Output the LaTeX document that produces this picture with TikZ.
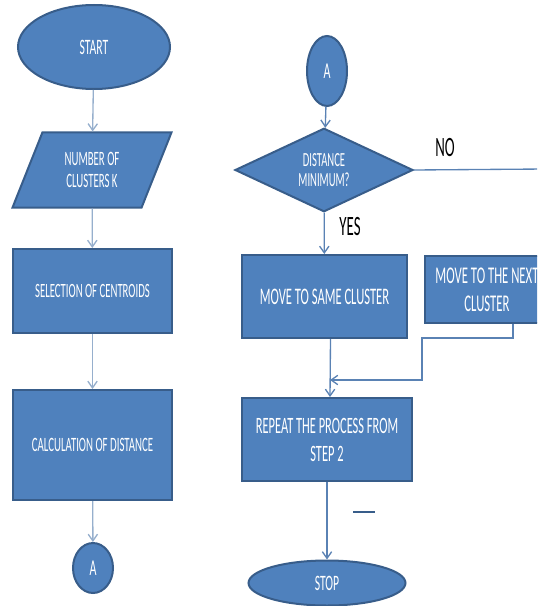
\documentclass[tikz,border=0pt]{standalone}
\usepackage{fontspec}
\setmainfont{Carlito}[FakeStretch=0.53]
\usetikzlibrary{shapes.geometric,arrows.meta}

\definecolor{boxblue}{RGB}{79,129,189}
\definecolor{boxedge}{RGB}{56,93,138}
\definecolor{linegrey}{RGB}{150,175,205}
\definecolor{lineblue}{RGB}{90,130,180}

\tikzset{every picture/.style={line width=0.75pt}}
\tikzset{
  flowshape/.style={draw=boxedge, fill=boxblue, line width=1.5pt, text=white, align=center, inner sep=0pt},
  terminal/.style={flowshape, ellipse},
  inoutput/.style={flowshape, trapezium, trapezium left angle=65, trapezium right angle=115, trapezium stretches=true},
  process/.style={flowshape, rectangle},
  decision/.style={flowshape, diamond},
  offpage/.style={flowshape, ellipse, minimum width=30pt},
  connl/.style={draw=linegrey, line width=1pt, -{Straight Barb[length=5pt,width=7pt]}},
  connr/.style={draw=lineblue, line width=1pt, -{Straight Barb[length=5pt,width=7pt]}},
  answer/.style={font=\fontsize{21}{23}\selectfont}
}

\begin{document}
\begin{tikzpicture}[x=0.75pt,y=0.75pt,yscale=-1,xscale=1]
\clip (0,0) rectangle (537,606);

% left column
\node[terminal, minimum width=114pt, minimum height=63pt, font=\fontsize{16.5}{18}\selectfont] (start) at (94,47) {START};
\node[inoutput, minimum width=120pt, minimum height=56.25pt, font=\fontsize{15.3}{16.5}\selectfont] (numk) at (92,170) {NUMBER OF\\CLUSTERS K};
\node[process, minimum width=119.25pt, minimum height=63pt, font=\fontsize{15.2}{16}\selectfont] (select) at (92.5,291) {SELECTION OF CENTROIDS};
\node[process, minimum width=119.25pt, minimum height=82.5pt, font=\fontsize{15.3}{16}\selectfont] (calc) at (92.5,445) {CALCULATION OF DISTANCE};
\node[offpage, minimum height=37.5pt, font=\fontsize{17}{18}\selectfont] (aout) at (93,568) {A};

% right column
\node[offpage, minimum height=52.5pt, font=\fontsize{17}{18}\selectfont] (ain) at (327,71) {A};
\node[decision, minimum width=133.5pt, minimum height=56.25pt, font=\fontsize{15}{14.5}\selectfont] (dmin) at (324,170) {DISTANCE\\MINIMUM?};
\node[process, minimum width=123.75pt, minimum height=62.25pt, font=\fontsize{17.8}{19}\selectfont] (same) at (324.5,296.5) {MOVE TO SAME CLUSTER};
\node[process, minimum width=93pt, minimum height=50.25pt, font=\fontsize{18}{21}\selectfont] (next) at (487,289.5) {MOVE TO THE NEXT\\CLUSTER};
\node[process, minimum width=127.5pt, minimum height=62.25pt, font=\fontsize{17.6}{21}\selectfont] (repeat) at (327,439.5) {REPEAT THE PROCESS FROM\\STEP 2};
\node[terminal, minimum width=117.75pt, minimum height=33.75pt, font=\fontsize{16.5}{18}\selectfont] (stop) at (327,583) {STOP};

% labels
\node[answer] (nolbl) at (445,148) {NO};
\node[answer] (yeslbl) at (350,227) {YES};

\coordinate (noend) at (545,169);
\coordinate (join) at (330,380);

% connectors left
\draw[connl] (start) -- (numk);
\draw[connl] (numk) -- (select);
\draw[connl] (select) -- (calc);
\draw[connl] (calc) -- (aout);

% connectors right
\draw[connr] (ain) -- (dmin);
\draw[draw=lineblue, line width=1pt] (dmin.east) -- (noend);
\draw[connr] (dmin) -- (same);
\draw[connr] ([xshift=4.5pt]same.south) -- ([xshift=2.25pt]repeat.north);
\draw[connr] ([xshift=19.5pt]next.south) -- ++(0,14) -- ++(-91,0) |- (join);
\draw[connr] (repeat) -- (stop);

% stray mark
\draw[draw=boxedge, line width=1pt] (353,512) -- (375,512);

\end{tikzpicture}
\end{document}
